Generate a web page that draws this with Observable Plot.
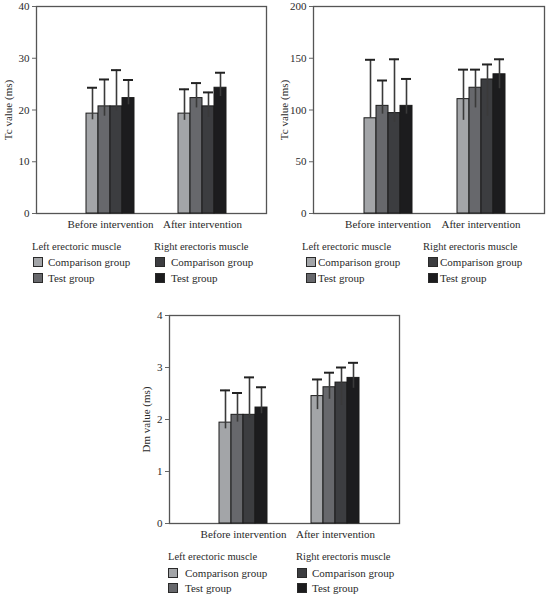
<!DOCTYPE html>
<html>
<head>
<meta charset="utf-8">
<script src="https://cdn.jsdelivr.net/npm/d3@7"></script>
<script src="https://cdn.jsdelivr.net/npm/@observablehq/plot@0.6"></script>
<style>
  html, body { margin: 0; padding: 0; background: #fff; }
  #root { position: relative; width: 546px; height: 595px; overflow: hidden; font-family: "Liberation Serif", "DejaVu Serif", serif; color: #2a2a2a; }
  .layer { position: absolute; }
  .layer svg { background: transparent !important; font-family: "Liberation Serif", "DejaVu Serif", serif !important; }
  .layer svg text { font-family: "Liberation Serif", "DejaVu Serif", serif !important; }
  .lg { position: absolute; white-space: nowrap; transform: translateY(-50%); line-height: 1; }
  .sw { position: absolute; width: 8px; height: 8px; border: 1px solid #2a2a2a; transform: translateY(-50%); }
</style>
</head>
<body>
<div id="root"></div>
<script>
// ---- categories / series ----
const groups = ["Before intervention", "After intervention"];
const seriesKeys = ["Left-Comparison", "Left-Test", "Right-Comparison", "Right-Test"];
const seriesColors = ["#a3a5a8", "#67686c", "#3c3d40", "#1c1c1e"];
const legendHeadings = ["Left erectoric muscle", "Right erectoris muscle"];
const legendItems = ["Comparison group", "Test group"];

// ---- chart 1: Tc value (ms), left ----
const tc1Label = "Tc value (ms)";
const tc1Ticks = [0, 10, 20, 30, 40];
const tc1Mean  = [[19.3, 20.7, 20.7, 22.3], [19.3, 22.3, 20.7, 24.3]];
const tc1Upper = [[24.3, 25.9, 27.7, 25.8], [24.0, 25.2, 23.4, 27.2]];
const tc1Lower = [[18.1, 18.8, 19.8, 21.0], [18.0, 20.4, 18.6, 22.6]];

// ---- chart 2: Tc value (ms), right ----
const tc2Label = "Tc value (ms)";
const tc2Ticks = [0, 50, 100, 150, 200];
const tc2Mean  = [[92, 104, 97, 104], [110.5, 121.5, 129.5, 134.5]];
const tc2Upper = [[148.5, 128.5, 149, 130], [139, 139, 144, 149]];
const tc2Lower = [[92, 96, 88, 96], [90, 102, 94, 120.5]];

// ---- chart 3: Dm value (ms) ----
const dmLabel = "Dm value (ms)";
const dmTicks = [0, 1, 2, 3, 4];
const dmMean  = [[1.94, 2.09, 2.09, 2.23], [2.45, 2.62, 2.71, 2.80]];
const dmUpper = [[2.56, 2.51, 2.81, 2.62], [2.77, 2.90, 3.00, 3.09]];
const dmLower = [[1.82, 1.95, 2.02, 2.11], [2.19, 2.39, 2.27, 2.60]];

const root = document.getElementById("root");
const FONT = "'Liberation Serif', 'DejaVu Serif', serif";

function rowsOf(mean, upper, lower) {
  const rows = [];
  groups.forEach((g, gi) => seriesKeys.forEach((s, si) => {
    rows.push({group: g, series: s, value: mean[gi][si], upper: upper[gi][si], lower: lower[gi][si]});
  }));
  return rows;
}

function chart(cfg) {
  const {left, top, width, height, ml, mr, mt, mb, ticks, label, labelOffset, mean, upper, lower} = cfg;
  const yDom = [ticks[0], ticks[ticks.length - 1]];
  const common = {
    width, height, marginLeft: ml, marginRight: mr, marginTop: mt, marginBottom: mb,
    style: {fontFamily: FONT, fontSize: "11px", color: "#2a2a2a", background: "transparent"}
  };
  // base layer: frame + y axis
  const base = Plot.plot({
    ...common,
    y: {domain: yDom, axis: null},
    marks: [
      Plot.frame({stroke: "#555", strokeWidth: 1.3}),
      Plot.axisY({ticks, tickSize: 4, tickPadding: 3, stroke: "#666", tickFormat: d => String(d),
                  label, labelAnchor: "center", labelArrow: "none", labelOffset, fontSize: 11})
    ]
  });
  // bars layer: faceted by group
  const rows = rowsOf(mean, upper, lower);
  const bars = Plot.plot({
    ...common,
    facet: {marginTop: 0, marginRight: 0, marginBottom: 0, marginLeft: 0},
    fx: {domain: groups, paddingInner: 0.4516, paddingOuter: 0.4624, align: 0.558, label: null},
    x: {domain: seriesKeys, padding: 0, axis: null},
    y: {domain: yDom, axis: null},
    color: {domain: seriesKeys, range: seriesColors},
    marks: [
      Plot.barY(rows, {fx: "group", x: "series", y: "value", fill: "series", stroke: "#1a1a1a", strokeWidth: 1, inset: 0}),
      Plot.ruleX(rows, {fx: "group", x: "series", y1: "lower", y2: "upper", stroke: "#3a3a3a", strokeWidth: 1.6}),
      Plot.tickY(rows, {fx: "group", x: "series", y: "upper", stroke: "#222", strokeWidth: 2, inset: 1}),
      Plot.axisFx({anchor: "bottom", tickSize: 0, tickPadding: 7, label: null, fontSize: 11})
    ]
  });
  for (const el of [base, bars]) {
    const d = document.createElement("div");
    d.className = "layer";
    d.style.left = left + "px";
    d.style.top = top + "px";
    d.appendChild(el);
    root.appendChild(d);
  }
}

function legend(cfg) {
  const {cols, yHead, yRows} = cfg;
  cols.forEach((c, ci) => {
    const h = document.createElement("div");
    h.className = "lg";
    h.style.left = c.head + "px";
    h.style.top = yHead + "px";
    h.style.fontSize = "10.5px";
    h.textContent = legendHeadings[ci];
    root.appendChild(h);
    legendItems.forEach((item, ii) => {
      const sw = document.createElement("div");
      sw.className = "sw";
      sw.style.left = c.sw + "px";
      sw.style.top = yRows[ii] + "px";
      sw.style.background = seriesColors[ci * 2 + ii];
      root.appendChild(sw);
      const t = document.createElement("div");
      t.className = "lg";
      t.style.left = c.text + "px";
      t.style.top = yRows[ii] + "px";
      t.style.fontSize = "11px";
      t.textContent = item;
      root.appendChild(t);
    });
  });
}

chart({left: 0, top: 0, width: 270, height: 232, ml: 36, mr: 4, mt: 6, mb: 19,
       ticks: tc1Ticks, label: tc1Label, labelOffset: 32, mean: tc1Mean, upper: tc1Upper, lower: tc1Lower});
chart({left: 270, top: 0, width: 276, height: 232, ml: 43, mr: 2, mt: 6, mb: 19,
       ticks: tc2Ticks, label: tc2Label, labelOffset: 33, mean: tc2Mean, upper: tc2Upper, lower: tc2Lower});
chart({left: 130, top: 300, width: 276, height: 242, ml: 39, mr: 7, mt: 15, mb: 19,
       ticks: dmTicks, label: dmLabel, labelOffset: 27, mean: dmMean, upper: dmUpper, lower: dmLower});

legend({cols: [{head: 32, sw: 33, text: 48}, {head: 154, sw: 155, text: 171}], yHead: 247, yRows: [262, 278]});
legend({cols: [{head: 302, sw: 306, text: 318}, {head: 423, sw: 428, text: 440}], yHead: 247, yRows: [262, 278]});
legend({cols: [{head: 168, sw: 168, text: 185}, {head: 296, sw: 297, text: 312}], yHead: 557, yRows: [573, 588]});
</script>
</body>
</html>
